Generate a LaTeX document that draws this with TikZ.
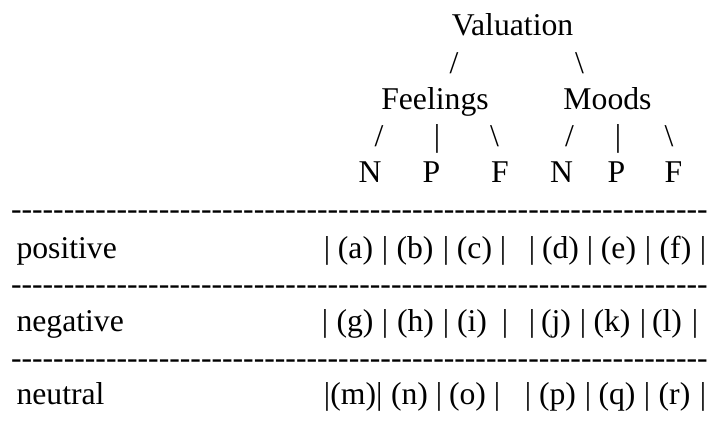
\documentclass[tikz,border=0pt]{standalone}
\usepackage{fontspec}
\setmainfont{Liberation Serif}
\newcommand\hy{\mbox{-}}
\newcommand\hyten{\hy\hy\hy\hy\hy\hy\hy\hy\hy\hy}
\newcommand\dashrow{\hyten\hyten\hyten\hyten\hyten\hyten\hy\hy\hy\hy\hy\hy}
\begin{document}
\begin{tikzpicture}[x=1bp,y=-1bp,
  txt/.style={inner sep=0pt,outer sep=0pt,anchor=base,font=\fontsize{31.7bp}{38bp}\selectfont},
  lbl/.style={txt,anchor=base west}]
\useasboundingbox (0,0) rectangle (710,430);
% tree
\node[txt] (val) at (512.5,35) {Valuation};
\node[txt] (s1) at (454,73) {/};
\node[txt] (s2) at (579.5,73) {\textbackslash};
\node[txt] (feel) at (435,109) {Feelings};
\node[txt] (mood) at (607.5,109) {Moods};
\node[txt] (f1) at (379,146) {/};
\node[txt] (f2) at (437,146) {\textbar};
\node[txt] (f3) at (494.5,146) {\textbackslash};
\node[txt] (m1) at (569.5,146) {/};
\node[txt] (m2) at (618,146) {\textbar};
\node[txt] (m3) at (669,146) {\textbackslash};
\node[txt] (fn) at (370,182) {N};
\node[txt] (fp) at (431.5,182) {P};
\node[txt] (ff) at (500,182) {F};
\node[txt] (mn) at (561.5,182) {N};
\node[txt] (mp) at (616.5,182) {P};
\node[txt] (mf) at (673.5,182) {F};
% dash lines
\node[lbl] (d1) at (11,219.5) {\dashrow};
\node[lbl] (d2) at (11,294.5) {\dashrow};
\node[lbl] (d3) at (11,368.5) {\dashrow};
% labels
\node[lbl] (pos) at (16.5,258) {positive};
\node[lbl] (neg) at (16.5,331) {negative};
\node[lbl] (neu) at (16.5,404) {neutral};
% row 1
\foreach \x [count=\i] in {327,385,446,503,532,590,648,703}
  \node[txt] (ra\i) at (\x,258) {\textbar};
\node[txt] (a) at (355.5,258) {(a)};
\node[txt] (b) at (415,258) {(b)};
\node[txt] (c) at (474.5,258) {(c)};
\node[txt] (d) at (560.5,258) {(d)};
\node[txt] (e) at (618.5,258) {(e)};
\node[txt] (f) at (675.5,258) {(f)};
% row 2
\foreach \x [count=\i] in {325,385,446,505,532,583,643,695}
  \node[txt] (rb\i) at (\x,331) {\textbar};
\node[txt] (g) at (355,331) {(g)};
\node[txt] (h) at (415.5,331) {(h)};
\node[txt] (i) at (472,331) {(i)};
\node[txt] (j) at (556,331) {(j)};
\node[txt] (k) at (612,331) {(k)};
\node[txt] (l) at (667,331) {(l)};
% row 3
\node[txt] (m) at (353.2,404) {\textbar(m)\textbar};
\foreach \x [count=\i] in {439,497,528,588,647,703}
  \node[txt] (rc\i) at (\x,404) {\textbar};
\node[txt] (n) at (409.5,404) {(n)};
\node[txt] (o) at (467.5,404) {(o)};
\node[txt] (p) at (557.5,404) {(p)};
\node[txt] (q) at (617,404) {(q)};
\node[txt] (r) at (674.5,404) {(r)};
\end{tikzpicture}
\end{document}
